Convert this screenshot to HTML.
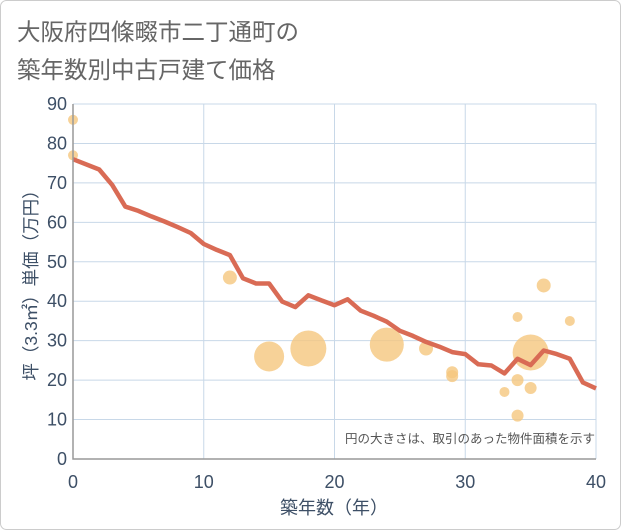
<!DOCTYPE html>
<html><head><meta charset="utf-8"><style>
html,body{margin:0;padding:0;background:#fff}
svg{display:block}
text{font-family:"Liberation Sans","Noto Sans CJK JP",sans-serif}
</style></head><body>
<svg id="chart" width="621" height="530">
<rect x="0.5" y="0.5" width="620" height="529" rx="6" fill="#fff" stroke="#ccc"/>
<text x="17" y="40" font-size="23.5" fill="#666">大阪府四條畷市二丁通町の</text>
<text x="17" y="78" font-size="23.5" fill="#666">築年数別中古戸建て価格</text>
<g id="grid"></g>
<g id="bubbles"></g>
<g id="line"></g>
<g id="axes"></g>
<text x="595" y="443" font-size="12.5" fill="#555" text-anchor="end">円の大きさは、取引のあった物件面積を示す</text>
<text x="334" y="514" font-size="18" fill="#3d4f66" text-anchor="middle">築年数（年）</text>
<text transform="translate(37,281) rotate(-90)" font-size="17.5" fill="#3d4f66" text-anchor="middle">坪（3.3㎡）単価（万円）</text>
</svg>
<script>
const xTicks=[0,10,20,30,40];
const yTicks=[0,10,20,30,40,50,60,70,80,90];
const lineYears=[0,2,3,4,5,6,7,8,9,10,11,12,13,14,15,16,17,18,19,20,21,22,23,24,25,26,27,28,29,30,31,32,33,34,35,36,37,38,39,40];
const linePrices=[76,73.4,69.5,64,62.9,61.5,60.2,58.8,57.3,54.5,53,51.7,45.8,44.5,44.5,39.9,38.5,41.5,40.2,39,40.5,37.6,36.3,34.8,32.5,31.2,29.7,28.5,27.1,26.6,24,23.7,21.7,25.4,23.8,27.5,26.6,25.4,19.4,17.9];
const bubbleYears=[0,0,12,15,18,24,27,29,29,33,34,34,34,35,35,36,38];
const bubblePrices=[86,77,46,26,28,29,28,22,21,17,36,20,11,27,18,44,35];
const bubbleAreas=[25,25,49,225,324,289,49,36,36,25,25,36,36,324,36,49,25];
const X0=73,X1=596,Y0=459,Y1=104;
const xs=v=>X0+(v-0)/(40-0)*(X1-X0);
const ys=v=>Y0-(v-0)/(90-0)*(Y0-Y1);
const NS="http://www.w3.org/2000/svg";
function mk(tag,parent,attrs){const e=document.createElementNS(NS,tag);for(const k in attrs)e.setAttribute(k,attrs[k]);parent.appendChild(e);return e;}
const grid=document.getElementById('grid'),axes=document.getElementById('axes');
yTicks.forEach(t=>{
 const l=mk('line',grid,{x1:X0,x2:X1,y1:ys(t),y2:ys(t),stroke:'#c8d8e8','stroke-width':1});
 
 
 const tx=mk('text',axes,{x:X0-6,y:ys(t)+6,'font-size':18,fill:'#3d4f66','text-anchor':'end'});
 tx.textContent=t;
 
 
});
xTicks.forEach(t=>{
 const l=mk('line',grid,{x1:xs(t),x2:xs(t),y1:Y1,y2:Y0,stroke:'#c8d8e8','stroke-width':1});
 
 
 const tx=mk('text',axes,{x:xs(t),y:488,'font-size':18,fill:'#3d4f66','text-anchor':'middle'});
 tx.textContent=t;
 
 
});
const ax=mk('path',axes,{d:`M${X0},${Y1} V${Y0} H${X1}`,fill:'none',stroke:'#999','stroke-width':1.5});


const bg=document.getElementById('bubbles');
bubbleYears.forEach((yr,i)=>{
 const c=mk('circle',bg,{cx:xs(yr),cy:ys(bubblePrices[i]),r:Math.sqrt(bubbleAreas[i]),fill:'#f5c77e','fill-opacity':0.8});
 
 
});
const d=lineYears.map((y,i)=>(i?'L':'M')+xs(y).toFixed(1)+','+ys(linePrices[i]).toFixed(1)).join(' ');
const p=mk('path',document.getElementById('line'),{d:d,fill:'none',stroke:'#d96b55','stroke-width':4.5,'stroke-linejoin':'round'});


</script>
</body></html>
